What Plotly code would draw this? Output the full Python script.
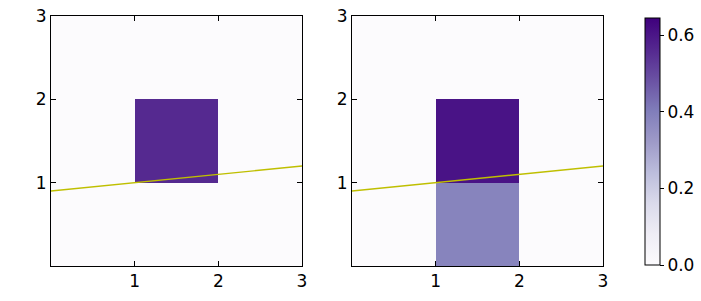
import plotly.graph_objects as go

# cell edges and values
edges = [0, 1, 2, 3]
z_left = [[0.0, 0.0, 0.0],
          [0.0, 0.56, 0.0],
          [0.0, 0.0, 0.0]]
z_right = [[0.0, 0.385, 0.0],
           [0.0, 0.605, 0.0],
           [0.0, 0.0, 0.0]]
zmax = 0.645
line_x = [0, 3]
line_y = [0.9, 1.2]
ticks = [1, 2, 3]
cbar_ticks = [0.0, 0.2, 0.4, 0.6]

W, H = 701, 301
font = dict(family="DejaVu Sans", size=17, color="black")


def px_x(p):
    return p / W


def px_y(p):
    return (H - p) / H


fig = go.Figure()
fig.add_trace(go.Heatmap(x=edges, y=edges, z=z_left, zmin=0, zmax=zmax,
                         colorscale="Purples", showscale=False,
                         xaxis="x", yaxis="y"))
fig.add_trace(go.Heatmap(x=edges, y=edges, z=z_right, zmin=0, zmax=zmax,
                         colorscale="Purples", xaxis="x2", yaxis="y2",
                         colorbar=dict(
                             x=px_x(645), xanchor="left", xpad=0, ypad=0,
                             y=px_y((18 + 265) / 2), yanchor="middle",
                             lenmode="pixels", len=247, thickness=15,
                             outlinewidth=1, outlinecolor="black",
                             ticks="outside", ticklen=4, tickcolor="black",
                             tickvals=cbar_ticks, ticktext=["0.0", "0.2", "0.4", "0.6"],
                             tickfont=font)))
for xa, ya in (("x", "y"), ("x2", "y2")):
    fig.add_trace(go.Scatter(x=line_x, y=line_y, mode="lines",
                             line=dict(color="#bfbf00", width=1.4),
                             xaxis=xa, yaxis=ya, showlegend=False,
                             hoverinfo="skip"))

ax = dict(range=[0, 3], tickvals=ticks, ticks="inside", ticklen=5,
          tickcolor="black", showline=True, linecolor="black", linewidth=1,
          mirror="allticks", showgrid=False, zeroline=False, tickfont=font,
          automargin=False, ticklabeloverflow="allow")
ydom = [px_y(266), px_y(16)]
fig.update_layout(
    width=W, height=H,
    margin=dict(l=0, r=0, t=0, b=0, autoexpand=False),
    paper_bgcolor="white", plot_bgcolor="white",
    showlegend=False,
    xaxis=dict(ax, domain=[px_x(51), px_x(302)], anchor="y"),
    yaxis=dict(ax, domain=ydom, anchor="x"),
    xaxis2=dict(ax, domain=[px_x(352), px_x(603)], anchor="y2"),
    yaxis2=dict(ax, domain=ydom, anchor="x2"),
)
# drop the browser's default 8px body margin so the figure fills the window
fig.write_html("out.html", config={"displayModeBar": False},
               post_script="document.body.style.margin = '0';")
